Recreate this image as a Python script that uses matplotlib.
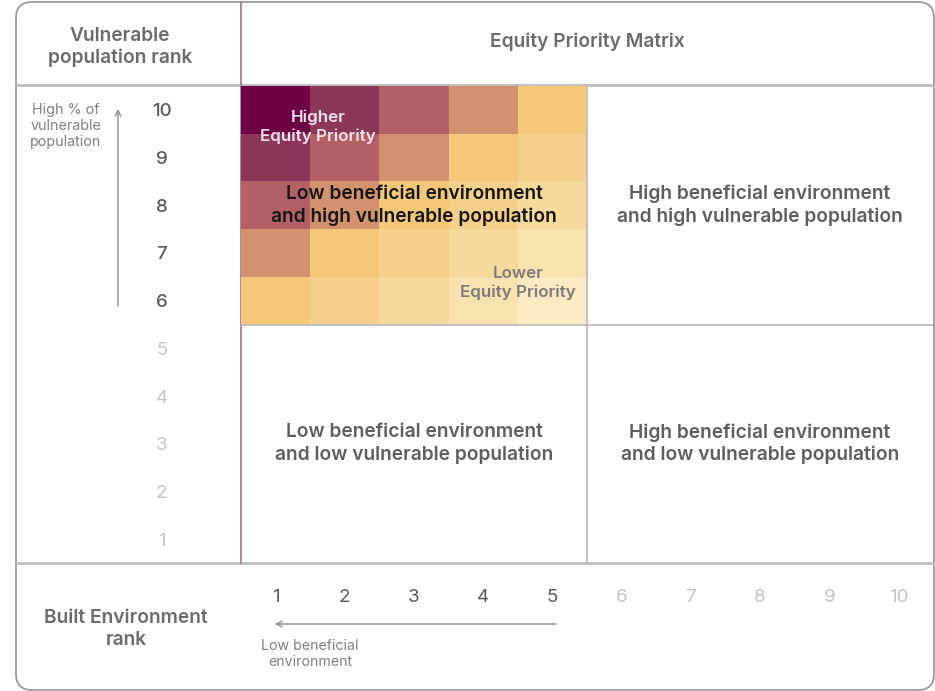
import matplotlib
matplotlib.use("Agg")
import matplotlib.pyplot as plt
import numpy as np
from matplotlib.colors import ListedColormap, BoundaryNorm
from matplotlib.patches import FancyBboxPatch

# ---------------- data ----------------
built_ranks = [1, 2, 3, 4, 5, 6, 7, 8, 9, 10]
vuln_ranks = [1, 2, 3, 4, 5, 6, 7, 8, 9, 10]
heat_built = [1, 2, 3, 4, 5]
heat_vuln = [6, 7, 8, 9, 10]
# priority score (rows: vulnerable rank 6..10, cols: built env rank 1..5)
priority = [
    [5, 4, 3, 2, 1],   # vuln 6
    [6, 5, 4, 3, 2],   # vuln 7
    [7, 6, 5, 4, 3],   # vuln 8
    [8, 7, 6, 5, 4],   # vuln 9
    [9, 8, 7, 6, 5],   # vuln 10
]
priority_colors = ["#fbeac2", "#f9e2b0", "#f7d99c", "#f5d08a", "#f4c878",
                   "#d3926f", "#b35f66", "#8b3759", "#6e0046"]
quadrant_labels = {
    (3, 8): "Low beneficial environment\nand high vulnerable population",
    (8, 8): "High beneficial environment\nand high vulnerable population",
    (3, 3): "Low beneficial environment\nand low vulnerable population",
    (8, 3): "High beneficial environment\nand low vulnerable population",
}

plt.rcParams['font.family'] = ['Inter', 'DejaVu Sans']

W, H = 935, 691
fig = plt.figure(figsize=(W / 100, H / 100), dpi=100)

# background axes in pixel coordinates
bg = fig.add_axes([0, 0, 1, 1])
bg.set_xlim(0, W)
bg.set_ylim(H, 0)
bg.axis('off')

frame = FancyBboxPatch((16, 2), 918, 688, boxstyle="round,pad=0,rounding_size=16",
                       fc="white", ec="#9a9a9a", lw=1.3, zorder=0)
bg.add_patch(frame)

grid_c = "#bdbdbd"
bg.plot([16, 934], [85, 85], color=grid_c, lw=2.0, zorder=3)
bg.plot([16, 934], [563, 563], color=grid_c, lw=2.0, zorder=3)
bg.plot([241, 241], [2, 563], color="#b07a92", lw=1.3, zorder=4)

hdr = dict(fontsize=13.8, color="#6b6b6b", fontweight="semibold", linespacing=1.3)
bg.text(120, 47, "Vulnerable\npopulation rank", ha="center", va="center", **hdr)
bg.text(587, 42, "Equity Priority Matrix", ha="center", va="center", **hdr)
bg.text(126, 629, "Built Environment\nrank", ha="center", va="center", **hdr)

bg.text(66, 126, "High % of\nvulnerable\npopulation", ha="center", va="center",
        fontsize=10.3, color="#808080", linespacing=1.15)
bg.annotate("", xy=(118, 109), xytext=(118, 306),
            arrowprops=dict(arrowstyle="->", color="#8a8a8a", lw=1.0,
                            shrinkA=0, shrinkB=0))
bg.annotate("", xy=(275, 624), xytext=(556, 624),
            arrowprops=dict(arrowstyle="->", color="#8a8a8a", lw=1.0,
                            shrinkA=0, shrinkB=0))
bg.text(310, 654, "Low beneficial\nenvironment", ha="center", va="center",
        fontsize=10.2, color="#808080", linespacing=1.25)

# heat axes: x 241..933, y 86..563 (pixels)
x0, x1, y0, y1 = 241, 933, 86, 563
ax = fig.add_axes([x0 / W, 1 - y1 / H, (x1 - x0) / W, (y1 - y0) / H])
ax.set_xlim(0.5, 10.5)
ax.set_ylim(0.5, 10.5)
ax.patch.set_alpha(0)
for s in ax.spines.values():
    s.set_visible(False)

cmap = ListedColormap(priority_colors)
norm = BoundaryNorm(np.arange(0.5, 10.5, 1.0), cmap.N)
xe = np.arange(heat_built[0] - 0.5, heat_built[-1] + 1.0, 1.0)
ye = np.arange(heat_vuln[0] - 0.5, heat_vuln[-1] + 1.0, 1.0)
ax.pcolormesh(xe, ye, np.array(priority), cmap=cmap, norm=norm, zorder=1)

# quadrant dividers
ax.plot([0.5, 10.5], [5.5, 5.5], color=grid_c, lw=1.3, zorder=3)
ax.plot([5.5, 5.5], [0.5, 10.5], color=grid_c, lw=1.3, zorder=3)

for (qx, qy), lab in quadrant_labels.items():
    col = "#151515" if (qx, qy) == (3, 8) else "#5e5e5e"
    ax.text(qx, qy, lab, ha="center", va="center", fontsize=13.8,
            color=col, fontweight="semibold", linespacing=1.3, zorder=5)

ax.text(1.61, 9.64, "Higher\nEquity Priority", ha="center", va="center",
        fontsize=12.2, color="#f3e3ec", fontweight="semibold", linespacing=1.3, zorder=5)
ax.text(4.5, 6.37, "Lower\nEquity Priority", ha="center", va="center",
        fontsize=12.2, color="#7a7a7a", fontweight="semibold", linespacing=1.3, zorder=5)

ax.set_xticks(built_ranks)
ax.set_xticklabels([str(v) for v in built_ranks])
ax.set_yticks(vuln_ranks)
ax.set_yticklabels([str(v) for v in vuln_ranks])
ax.tick_params(axis="both", length=0, labelsize=13.5)
ax.tick_params(axis="x", pad=19)
ax.tick_params(axis="y", pad=57)
for lab in ax.get_yticklabels():
    lab.set_horizontalalignment("center")
for v, lab in zip(built_ranks, ax.get_xticklabels()):
    lab.set_color("#5a5a5a" if v <= 5 else "#c4c4c4")
for v, lab in zip(vuln_ranks, ax.get_yticklabels()):
    lab.set_color("#5a5a5a" if v >= 6 else "#c4c4c4")
    if v >= 6:
        lab.set_fontweight("medium")

fig.savefig("out.png", dpi=100)
